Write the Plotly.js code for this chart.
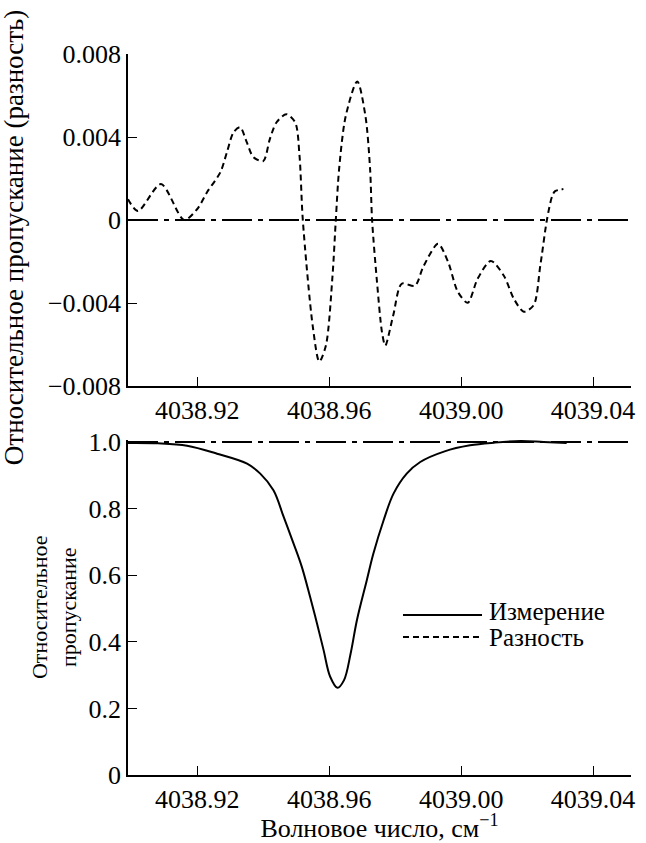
<!DOCTYPE html>
<html><head><meta charset="utf-8">
<script src="https://cdn.plot.ly/plotly-3.0.1.min.js"></script>
<style>
html, body { margin: 0; padding: 0; background: #fff; }
#plot text { font-family: "Liberation Serif", serif !important; }
</style>
</head><body><div id="plot" style="width:646px;height:843px"></div>
<script>
const diffX = [4038.899, 4038.902, 4038.909, 4038.916, 4038.920, 4038.923, 4038.927, 4038.929, 4038.931, 4038.933,
  4038.935, 4038.937, 4038.940, 4038.942, 4038.944, 4038.947, 4038.9497, 4038.951, 4038.952,
  4038.955, 4038.957, 4038.959, 4038.961, 4038.962,
  4038.963, 4038.965, 4038.9685, 4038.971, 4038.9724, 4038.973,
  4038.9745, 4038.976, 4038.977, 4038.9794, 4038.982, 4038.986,
  4038.9885, 4038.993, 4038.996, 4038.999, 4039.002, 4039.005, 4039.009, 4039.013, 4039.016, 4039.019,
  4039.022, 4039.024, 4039.026, 4039.0276, 4039.0285, 4039.031];
const diffY = [0.0010, 0.00043, 0.00173, 0.0000, 0.00053, 0.00135, 0.0023, 0.00327, 0.00423, 0.00447,
  0.00375, 0.00303, 0.00284, 0.0039, 0.0047, 0.0051, 0.0047, 0.0031, 0.0000,
  -0.0051, -0.00682, -0.00605, -0.0027, 0.0000,
  0.00245, 0.0050, 0.00668, 0.0050, 0.00245, 0.0000,
  -0.0030, -0.0054, -0.00605, -0.0046, -0.00307, -0.00317,
  -0.00226, -0.00115, -0.0020, -0.00346, -0.00399, -0.00283, -0.00197, -0.0027, -0.0038, -0.00442,
  -0.0041, -0.0022, 0.0000, 0.00115, 0.00139, 0.00149];
const measX = [4038.899, 4038.908, 4038.9169, 4038.9260, 4038.9351, 4038.9391, 4038.9431, 4038.9462, 4038.9492,
  4038.9517, 4038.9542, 4038.9563, 4038.9583, 4038.9603, 4038.9625, 4038.9645, 4038.9665, 4038.9684,
  4038.9714, 4038.9734, 4038.9765, 4038.9795, 4038.9835, 4038.9876, 4038.995, 4039.0027, 4039.010,
  4039.018, 4039.025, 4039.032];
const measY = [0.997, 0.996, 0.989, 0.965, 0.935, 0.905, 0.855, 0.775, 0.695,
  0.625, 0.535, 0.455, 0.375, 0.295, 0.262, 0.285, 0.365, 0.465,
  0.585, 0.665, 0.765, 0.845, 0.905, 0.940, 0.972, 0.990, 0.998,
  1.003, 1.000, 0.997];

const xTickVals = [4038.92, 4038.96, 4039.00, 4039.04];
const xTickText = ['4038.92', '4038.96', '4039.00', '4039.04'];
const diffTickVals = [-0.008, -0.004, 0, 0.004, 0.008];
const diffTickText = ['\u22120.008', '\u22120.004', '0', '0.004', '0.008'];
const measTickVals = [0, 0.2, 0.4, 0.6, 0.8, 1.0];
const measTickText = ['0', '0.2', '0.4', '0.6', '0.8', '1.0'];
const legendLabels = ['Измерение', 'Разность'];
const diffRefLevel = 0;
const measRefLevel = 1;

const SERIF = '"Liberation Serif", serif';
const INK = '#000000';

const traces = [
  {x: diffX, y: diffY, xaxis: 'x', yaxis: 'y', mode: 'lines', name: legendLabels[1],
   line: {color: INK, width: 2, dash: '6px,4px', shape: 'spline', smoothing: 0.8}, showlegend: false},
  {x: measX, y: measY, xaxis: 'x2', yaxis: 'y2', mode: 'lines', name: legendLabels[0],
   line: {color: INK, width: 2, shape: 'spline', smoothing: 1}, showlegend: false}
];

function axis(extra) {
  return Object.assign({
    showline: true, linecolor: INK, linewidth: 1.5, ticks: 'inside', ticklen: 9, tickwidth: 1.2,
    tickcolor: INK, showgrid: false, zeroline: false,
    tickfont: {family: SERIF, size: 26, color: INK}
  }, extra);
}
const xRange = [4038.899, 4039.0515];

const layout = {
  width: 646, height: 843,
  margin: {l: 128, r: 15, t: 54, b: 68},
  paper_bgcolor: 'white', plot_bgcolor: 'white',
  showlegend: false,
  xaxis: axis({domain: [0, 1], anchor: 'y', range: xRange, tickmode: 'array', tickvals: xTickVals, ticktext: xTickText}),
  yaxis: axis({domain: [0.5395, 1], anchor: 'x', range: [-0.008, 0.008], tickmode: 'array', tickvals: diffTickVals, ticktext: diffTickText}),
  xaxis2: axis({domain: [0, 1], anchor: 'y2', range: xRange, tickmode: 'array', tickvals: xTickVals, ticktext: xTickText,
    title: {text: 'Волновое число, см<sup>\u22121</sup>', font: {family: SERIF, size: 26, color: INK}, standoff: 2}}),
  yaxis2: axis({domain: [0, 0.4646], anchor: 'x2', range: [0, 1.006], tickmode: 'array', tickvals: measTickVals, ticktext: measTickText}),
  shapes: [
    {type: 'line', xref: 'x domain', yref: 'y', x0: 0, x1: 1, y0: diffRefLevel, y1: diffRefLevel,
     line: {color: INK, width: 2, dash: '30px,6px,5px,6px'}},
    {type: 'line', xref: 'x2 domain', yref: 'y2', x0: 0, x1: 1, y0: measRefLevel, y1: measRefLevel,
     line: {color: INK, width: 2, dash: '30px,6px,5px,6px'}},
    {type: 'line', xref: 'paper', yref: 'paper', x0: 0.5467, x1: 0.7038, y0: 0.2219, y1: 0.2219,
     line: {color: INK, width: 2}},
    {type: 'line', xref: 'paper', yref: 'paper', x0: 0.5467, x1: 0.7038, y0: 0.1914, y1: 0.1914,
     line: {color: INK, width: 1.8, dash: '6px,4px'}}
  ],
  annotations: [
    {text: legendLabels[0], xref: 'paper', yref: 'paper', x: 0.7137, y: 0.2261, xanchor: 'left', yanchor: 'middle',
     showarrow: false, font: {family: SERIF, size: 25, color: INK}},
    {text: legendLabels[1], xref: 'paper', yref: 'paper', x: 0.7137, y: 0.1914, xanchor: 'left', yanchor: 'middle',
     showarrow: false, font: {family: SERIF, size: 25, color: INK}},
    {text: 'Относительное пропускание (разность)', xref: 'paper', yref: 'paper', x: -0.2266, y: 0.746,
     xanchor: 'center', yanchor: 'middle', textangle: -90, showarrow: false,
     font: {family: SERIF, size: 27, color: INK}},
    {text: 'Относительное<br>пропускание', xref: 'paper', yref: 'paper', x: -0.1471, y: 0.233,
     xanchor: 'center', yanchor: 'middle', textangle: -90, showarrow: false,
     font: {family: SERIF, size: 22, color: INK}}
  ]
};

Plotly.newPlot('plot', traces, layout, {displayModeBar: false});
</script>
</body></html>
